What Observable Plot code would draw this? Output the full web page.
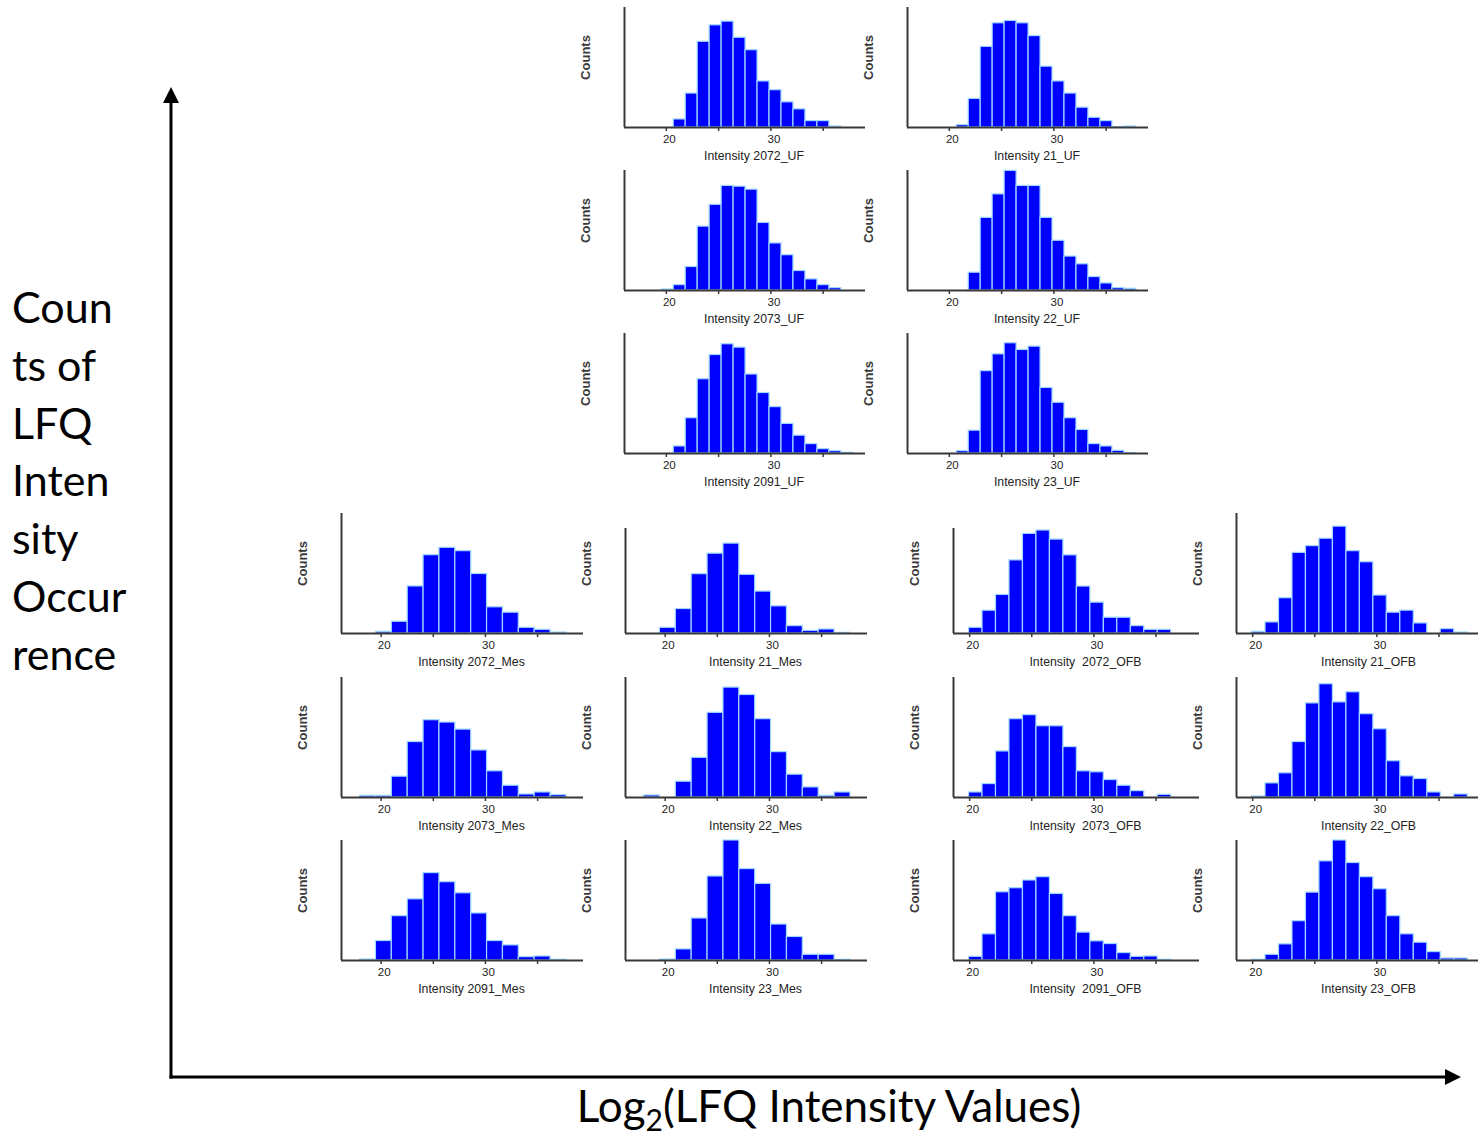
<!DOCTYPE html>
<html><head><meta charset="utf-8">
<script src="https://cdn.jsdelivr.net/npm/d3@7"></script>
<script src="https://cdn.jsdelivr.net/npm/@observablehq/plot@0.6"></script>
<style>
html,body{margin:0;padding:0;background:#fff;overflow:hidden}
#root{position:relative;width:1478px;height:1141px;overflow:hidden;background:#fff}
.panel{position:absolute}
.panel svg{overflow:visible;white-space:pre;max-width:none !important}
#overlay{position:absolute;left:0;top:0}
</style></head><body><div id="root"></div>
<script>
// ---------- data (relative counts) ----------
// bin grids (log2 intensity): start of first bin and bin width
const ufBins  = [19.565, 1.145];
const mesBins = [17.98, 1.522];
const ofbBins = [19.95, 1.085];
// x-axis ranges
const ufRange  = [16, 39.05];
const mesRange = [16.2, 39.4];
const ofbRange = [18.7, 38.5];
const tickValues = [20, 25, 30, 35];
const labeledTicks = [20, 30];

const uf2072 = [0, 24, 101, 255, 304, 315, 267, 230, 137, 111, 75, 54, 19, 19, 3];
const uf21   = [0, 7, 85, 240, 310, 317, 310, 272, 181, 137, 101, 59, 29, 19, 1, 3];
const uf2073 = [3, 16, 70, 190, 255, 311, 309, 300, 201, 140, 105, 58, 33, 16, 7];
const uf22   = [0, 0, 53, 216, 286, 356, 311, 311, 216, 148, 101, 78, 40, 21, 7, 5];
const uf2091 = [0, 21, 105, 221, 293, 325, 315, 235, 180, 138, 88, 53, 28, 13, 7, 2];
const uf23   = [0, 7, 68, 245, 295, 328, 308, 318, 195, 151, 105, 70, 28, 21, 8, 1];

const mes2072 = [0, 5, 35, 140, 233, 255, 245, 177, 78, 62, 17, 11, 3];
const mes21   = [0, 17, 73, 177, 238, 268, 175, 125, 81, 22, 8, 12, 2];
const mes2073 = [5, 5, 62, 165, 230, 223, 202, 140, 78, 35, 9, 15, 7];
const mes22   = [6, 0, 47, 118, 252, 327, 305, 233, 135, 68, 30, 5, 15];
const mes2091 = [3, 58, 132, 182, 260, 233, 200, 140, 58, 45, 10, 12, 2];
const mes23   = [0, 3, 33, 125, 250, 357, 272, 228, 107, 70, 17, 17, 2];

const ofb2072 = [17, 68, 115, 218, 297, 307, 280, 233, 140, 92, 47, 47, 22, 11, 11];
const ofb21   = [5, 33, 105, 240, 260, 282, 318, 245, 212, 113, 62, 68, 30, 0, 13, 3];
const ofb2073 = [15, 40, 137, 233, 245, 212, 212, 150, 78, 75, 52, 35, 19, 0, 8];
const ofb22   = [3, 42, 72, 165, 280, 337, 283, 313, 248, 203, 108, 63, 55, 15, 0, 9];
const ofb2091 = [11, 78, 203, 215, 238, 248, 198, 132, 83, 57, 49, 22, 11, 12, 2];
const ofb23   = [2, 17, 48, 117, 202, 295, 357, 290, 248, 212, 132, 78, 53, 25, 6, 6];

// count-axis maxima (same units as the counts)
const yTopTall = 357, yTopShort = 313;

const leftLabelLines = ["Coun", "ts of", "LFQ", "Inten", "sity", "Occur", "rence"];

// ---------- layout ----------
const ML = 50, MR = 8, MB = 44, MT = 4, FULLH = 120;
const PX_PER_COUNT = FULLH / yTopTall;

const panels = [
  // UF block
  {title: "Intensity 2072_UF", counts: uf2072, bins: ufBins, range: ufRange, ax: 624, base: 127, yTop: yTopTall, pw: 241},
  {title: "Intensity 21_UF",   counts: uf21,   bins: ufBins, range: ufRange, ax: 907, base: 127, yTop: yTopTall, pw: 241},
  {title: "Intensity 2073_UF", counts: uf2073, bins: ufBins, range: ufRange, ax: 624, base: 290, yTop: yTopTall, pw: 241},
  {title: "Intensity 22_UF",   counts: uf22,   bins: ufBins, range: ufRange, ax: 907, base: 290, yTop: yTopTall, pw: 241},
  {title: "Intensity 2091_UF", counts: uf2091, bins: ufBins, range: ufRange, ax: 624, base: 453, yTop: yTopTall, pw: 241},
  {title: "Intensity 23_UF",   counts: uf23,   bins: ufBins, range: ufRange, ax: 907, base: 453, yTop: yTopTall, pw: 241},
  // Mes block
  {title: "Intensity 2072_Mes", counts: mes2072, bins: mesBins, range: mesRange, ax: 341, base: 633, yTop: yTopTall, pw: 242},
  {title: "Intensity 21_Mes",   counts: mes21,   bins: mesBins, range: mesRange, ax: 625, base: 633, yTop: yTopShort, pw: 242},
  {title: "Intensity 2073_Mes", counts: mes2073, bins: mesBins, range: mesRange, ax: 341, base: 797, yTop: yTopTall, pw: 242},
  {title: "Intensity 22_Mes",   counts: mes22,   bins: mesBins, range: mesRange, ax: 625, base: 797, yTop: yTopTall, pw: 242},
  {title: "Intensity 2091_Mes", counts: mes2091, bins: mesBins, range: mesRange, ax: 341, base: 960, yTop: yTopTall, pw: 242},
  {title: "Intensity 23_Mes",   counts: mes23,   bins: mesBins, range: mesRange, ax: 625, base: 960, yTop: yTopTall, pw: 242},
  // OFB block
  {title: "Intensity  2072_OFB", counts: ofb2072, bins: ofbBins, range: ofbRange, ax: 953, base: 633, yTop: yTopShort, pw: 246},
  {title: "Intensity 21_OFB",    counts: ofb21,   bins: ofbBins, range: ofbRange, ax: 1236, base: 633, yTop: yTopTall, pw: 246},
  {title: "Intensity  2073_OFB", counts: ofb2073, bins: ofbBins, range: ofbRange, ax: 953, base: 797, yTop: yTopTall, pw: 246},
  {title: "Intensity 22_OFB",    counts: ofb22,   bins: ofbBins, range: ofbRange, ax: 1236, base: 797, yTop: yTopTall, pw: 246},
  {title: "Intensity  2091_OFB", counts: ofb2091, bins: ofbBins, range: ofbRange, ax: 953, base: 960, yTop: yTopTall, pw: 246},
  {title: "Intensity 23_OFB",    counts: ofb23,   bins: ofbBins, range: ofbRange, ax: 1236, base: 960, yTop: yTopTall, pw: 246}
];

const root = document.getElementById("root");
const AXIS = "#383838";

for (const p of panels) {
  const [b0, bw] = p.bins;
  const rows = p.counts.map((c, i) => ({x1: b0 + i * bw, x2: b0 + (i + 1) * bw, y: c}));
  const ph = Math.round(p.yTop * PX_PER_COUNT);
  const mt = MT + (FULLH - ph);
  const W = ML + p.pw + MR, H = mt + ph + MB;
  const chart = Plot.plot({
    width: W,
    height: H,
    marginLeft: ML, marginRight: MR, marginTop: mt, marginBottom: MB,
    style: {fontFamily: "'Liberation Sans', Arial, sans-serif", background: "transparent", color: "#222", maxWidth: "none"},
    x: {domain: p.range},
    y: {domain: [0, p.yTop], axis: null},
    marks: [
      Plot.rect(rows, {x1: "x1", x2: "x2", y1: 0, y2: "y", fill: "#0000ff", stroke: "#9fd8ff", strokeWidth: 1.2}),
      Plot.axisX({ticks: tickValues, tickFormat: () => "", tickSize: 4, stroke: AXIS, strokeWidth: 1.5, label: null}),
      Plot.text(labeledTicks, {x: d => d, text: d => String(d), frameAnchor: "bottom", dx: 3, dy: 15, fontSize: 11.5, fill: "#222"}),
      Plot.ruleY([0], {stroke: AXIS, strokeWidth: 2}),
      Plot.ruleX([p.range[0]], {stroke: AXIS, strokeWidth: 2}),
      Plot.text(["Counts"], {text: d => d, frameAnchor: "bottom-left", textAnchor: "middle", dx: -35, dy: -70, rotate: -90, fontSize: 13, fontWeight: "bold", fill: "#3a3a3a"}),
      Plot.text([p.title], {text: d => d, frameAnchor: "bottom", dx: 9, dy: 32, fontSize: 12.3, fill: "#222"})
    ]
  });
  const div = document.createElement("div");
  div.className = "panel";
  div.style.left = (p.ax - ML) + "px";
  div.style.top = (p.base - ph - mt) + "px";
  div.style.width = W + "px";
  div.style.height = H + "px";
  div.appendChild(chart);
  root.appendChild(div);
}

// ---------- big axes arrows and labels ----------
const NS = "http://www.w3.org/2000/svg";
const ov = document.createElementNS(NS, "svg");
ov.setAttribute("id", "overlay");
ov.setAttribute("width", 1478);
ov.setAttribute("height", 1141);
ov.innerHTML = `
  <line x1="171" y1="1078.5" x2="171" y2="100" stroke="#000" stroke-width="3"/>
  <polygon points="171,87 163,103 179,103" fill="#000"/>
  <line x1="169.5" y1="1077" x2="1448" y2="1077" stroke="#000" stroke-width="3"/>
  <polygon points="1461,1077 1445,1069 1445,1085" fill="#000"/>
`;
const g = document.createElementNS(NS, "g");
g.setAttribute("font-family", "Lato, 'Open Sans', sans-serif");
g.setAttribute("font-size", "43");
g.setAttribute("fill", "#000");
leftLabelLines.forEach((s, i) => {
  const t = document.createElementNS(NS, "text");
  t.setAttribute("x", 12);
  t.setAttribute("y", 323 + i * 57.8);
  t.textContent = s;
  g.appendChild(t);
});
const bt = document.createElementNS(NS, "text");
bt.setAttribute("x", 829);
bt.setAttribute("y", 1122);
bt.setAttribute("font-size", "44");
bt.setAttribute("text-anchor", "middle");
bt.innerHTML = `Log<tspan font-size="30" dy="9">2</tspan><tspan dy="-9">(LFQ Intensity Values)</tspan>`;
g.appendChild(bt);
ov.appendChild(g);
root.appendChild(ov);
</script>
</body></html>
